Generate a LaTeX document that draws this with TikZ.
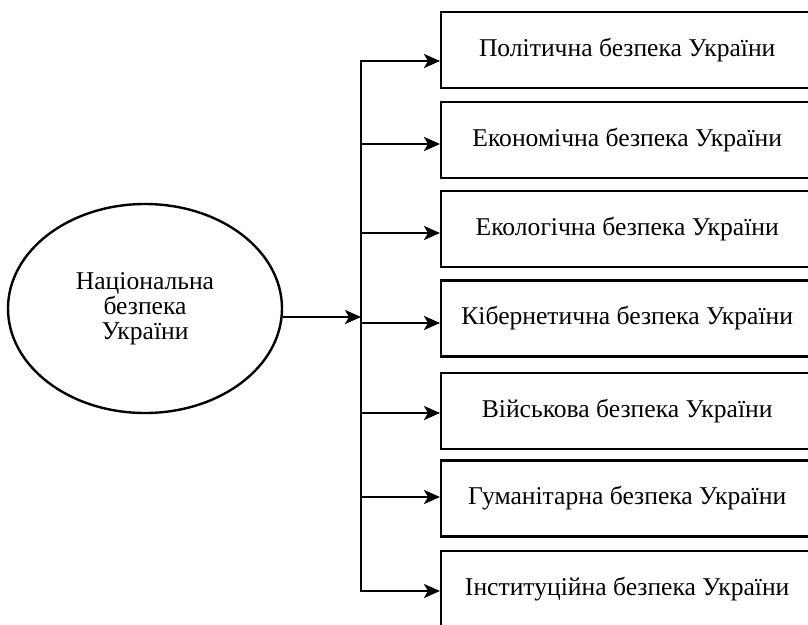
\documentclass[tikz,border=0pt]{standalone}
\usepackage{fontspec}
\setmainfont{Liberation Serif}
\usetikzlibrary{arrows.meta,shapes.geometric}
\begin{document}
\begin{tikzpicture}[x=1pt,y=-1pt,
  every node/.style={font=\fontsize{25.6}{26.8}\selectfont},
  boxnode/.style={draw, line width=2.4pt, minimum width=372pt, minimum height=76pt, inner sep=0pt, anchor=west, text depth=0pt, text height=12pt},
  oval/.style={draw, ellipse, line width=2.4pt, minimum width=274pt, minimum height=209pt, inner sep=0pt, align=center},
  conn/.style={line width=2.4pt, -{Stealth[length=16pt,width=14pt,inset=4pt]}},
  trunk/.style={line width=2.4pt, line cap=rect}]
\useasboundingbox (0,0) rectangle (808,624);
\clip (0,0) rectangle (808,624);
\node[oval] (nat) at (145,308.5) {Національна\\[-2pt]безпека\\[-2pt]України};
\node[boxnode] (b1) at (440,50) {Політична безпека України};
\node[boxnode] (b2) at (440,140) {Економічна безпека України};
\node[boxnode] (b3) at (440,229) {Екологічна безпека України};
\node[boxnode] (b4) at (440,318.5) {Кібернетична безпека України};
\node[boxnode] (b5) at (440,411) {Військова безпека України};
\node[boxnode] (b6) at (440,498.5) {Гуманітарна безпека України};
\node[boxnode] (b7) at (440,589) {Інституційна безпека України};
\coordinate (j1) at (361,61);
\coordinate (j2) at (361,144);
\coordinate (j3) at (361,233);
\coordinate (j4) at (361,323);
\coordinate (j5) at (361,413);
\coordinate (j6) at (361,497);
\coordinate (j7) at (361,591);
\coordinate (je) at (361,317);
\draw[trunk] (j1) -- (j7);
\draw[conn] (je -| nat.east) -- (je);
\draw[conn] (j1) -- (j1 -| b1.west);
\draw[conn] (j2) -- (j2 -| b2.west);
\draw[conn] (j3) -- (j3 -| b3.west);
\draw[conn] (j4) -- (j4 -| b4.west);
\draw[conn] (j5) -- (j5 -| b5.west);
\draw[conn] (j6) -- (j6 -| b6.west);
\draw[conn] (j7) -- (j7 -| b7.west);
\end{tikzpicture}
\end{document}
